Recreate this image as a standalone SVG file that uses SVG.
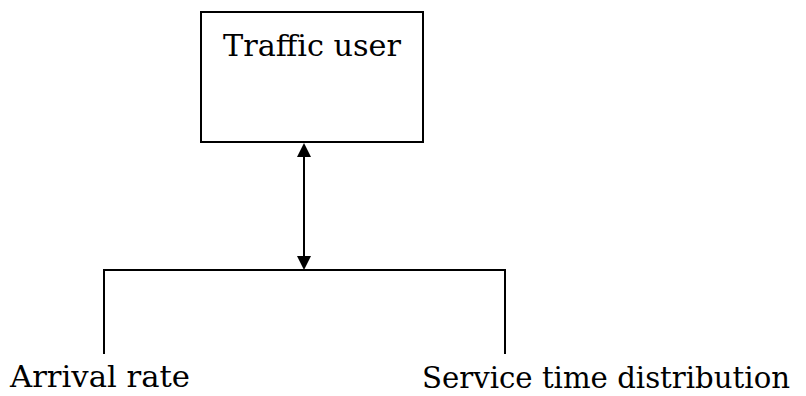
<svg xmlns="http://www.w3.org/2000/svg" width="806" height="396" viewBox="0 0 806 396">
<style>
.t{font-family:"DejaVu Serif","Liberation Serif",serif;font-size:29px;fill:#000}
.l{stroke:#000;stroke-width:2;fill:none}
.h{fill:#000;stroke:none}
</style>
<rect width="806" height="396" fill="#fff"/>
<g id="traffic-user">
<rect x="201" y="12" width="222" height="130" class="l"/>
<text x="312" y="56" class="t" text-anchor="middle" textLength="178" lengthAdjust="spacingAndGlyphs">Traffic user</text>
</g>
<g id="arrival-rate">
<text x="10" y="387" class="t" textLength="180" lengthAdjust="spacingAndGlyphs">Arrival rate</text>
</g>
<g id="service-time">
<text x="422" y="388" class="t" textLength="368" lengthAdjust="spacingAndGlyphs">Service time distribution</text>
</g>
<g id="connectors">
<line x1="304" y1="155" x2="304" y2="257" class="l"/>
<polygon points="304,143 297,157 311,157" class="h"/>
<polygon points="304,270 297,256 311,256" class="h"/>
<polyline points="104,354 104,270 505,270 505,354" class="l"/>
</g>
</svg>
